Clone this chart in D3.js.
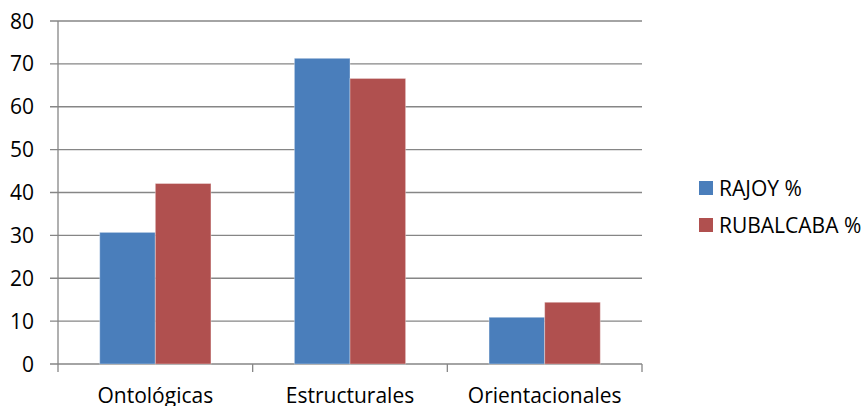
<!DOCTYPE html>
<html>
<head>
<meta charset="utf-8">
<script src="https://cdn.jsdelivr.net/npm/d3@7"></script>
<style>
  body { margin: 0; background: #fff; }
  svg { display: block; font-family: "Open Sans", sans-serif; }
</style>
</head>
<body>
<svg id="chart" width="867" height="406"></svg>
<script>
// chart data
var categories = ["Ontológicas", "Estructurales", "Orientacionales"];
var seriesNames = ["RAJOY %", "RUBALCABA %"];
var rajoy = [30.7, 71.3, 10.9];
var rubalcaba = [42.1, 66.6, 14.4];
var yTicks = [0, 10, 20, 30, 40, 50, 60, 70, 80];
var colors = ["#4A7EBB", "#B0504F"];

var svg = d3.select("#chart");
// note: "top" is taken by window.top, so use plot* names
var plotLeft = 58, plotRight = 642, plotTop = 21, plotBottom = 364;
var gridColor = "#868686";

var rows = categories.map(function (c, i) {
  return { cat: c, values: [rajoy[i], rubalcaba[i]] };
});

var x0 = d3.scaleBand().domain(categories).range([plotLeft, plotRight]).padding(0);
var x1 = d3.scaleBand().domain(seriesNames).range([0, x0.bandwidth()])
  .paddingInner(0).paddingOuter(0.75);
var y = d3.scaleLinear().domain([0, 80]).range([plotBottom, plotTop]);

// horizontal gridlines with left tick marks
svg.append("g")
  .selectAll("line")
  .data(yTicks)
  .join("line")
  .attr("x1", plotLeft - 8)
  .attr("x2", plotRight)
  .attr("y1", function (d) { return y(d); })
  .attr("y2", function (d) { return y(d); })
  .attr("stroke", gridColor)
  .attr("stroke-width", 1.3);

// y labels
svg.append("g")
  .selectAll("text")
  .data(yTicks)
  .join("text")
  .attr("x", 34)
  .attr("y", function (d) { return y(d); })
  .attr("dy", "0.36em")
  .attr("text-anchor", "end")
  .attr("font-size", 21)
  .attr("fill", "#000")
  .text(function (d) { return d; });

// y axis line
svg.append("line")
  .attr("x1", plotLeft).attr("x2", plotLeft)
  .attr("y1", plotTop).attr("y2", plotBottom)
  .attr("stroke", gridColor)
  .attr("stroke-width", 1.3);

// bars
var groups = svg.append("g")
  .selectAll("g")
  .data(rows)
  .join("g")
  .attr("transform", function (d) { return "translate(" + x0(d.cat) + ",0)"; });

groups.selectAll("rect")
  .data(function (d) { return d.values.map(function (v, i) { return { name: seriesNames[i], v: v, i: i }; }); })
  .join("rect")
  .attr("x", function (d) { return x1(d.name); })
  .attr("width", x1.bandwidth())
  .attr("y", function (d) { return y(d.v); })
  .attr("height", function (d) { return y(0) - y(d.v); })
  .attr("fill", function (d) { return colors[d.i]; })
  .attr("stroke", "#fff")
  .attr("stroke-opacity", 0.35)
  .attr("stroke-width", 1);

// category ticks below the axis
var catEdges = categories.map(function (c) { return x0(c); }).concat([plotRight]);
svg.append("g")
  .selectAll("line")
  .data(catEdges)
  .join("line")
  .attr("x1", function (d) { return d; })
  .attr("x2", function (d) { return d; })
  .attr("y1", plotBottom)
  .attr("y2", plotBottom + 8)
  .attr("stroke", gridColor)
  .attr("stroke-width", 1.3);

// category labels
svg.append("g")
  .selectAll("text")
  .data(categories)
  .join("text")
  .attr("x", function (d) { return x0(d) + x0.bandwidth() / 2; })
  .attr("y", 403)
  .attr("text-anchor", "middle")
  .attr("font-size", 21)
  .attr("fill", "#000")
  .text(function (d) { return d; });

// legend
var legend = svg.append("g")
  .selectAll("g")
  .data(seriesNames)
  .join("g")
  .attr("transform", function (d, i) { return "translate(699," + (181 + i * 37) + ")"; });

legend.append("rect")
  .attr("width", 14)
  .attr("height", 14)
  .attr("fill", function (d, i) { return colors[i]; });

legend.append("text")
  .attr("x", 20)
  .attr("y", 7)
  .attr("dy", "0.36em")
  .attr("font-size", 21)
  .attr("fill", "#000")
  .text(function (d) { return d; });
</script>
</body>
</html>
